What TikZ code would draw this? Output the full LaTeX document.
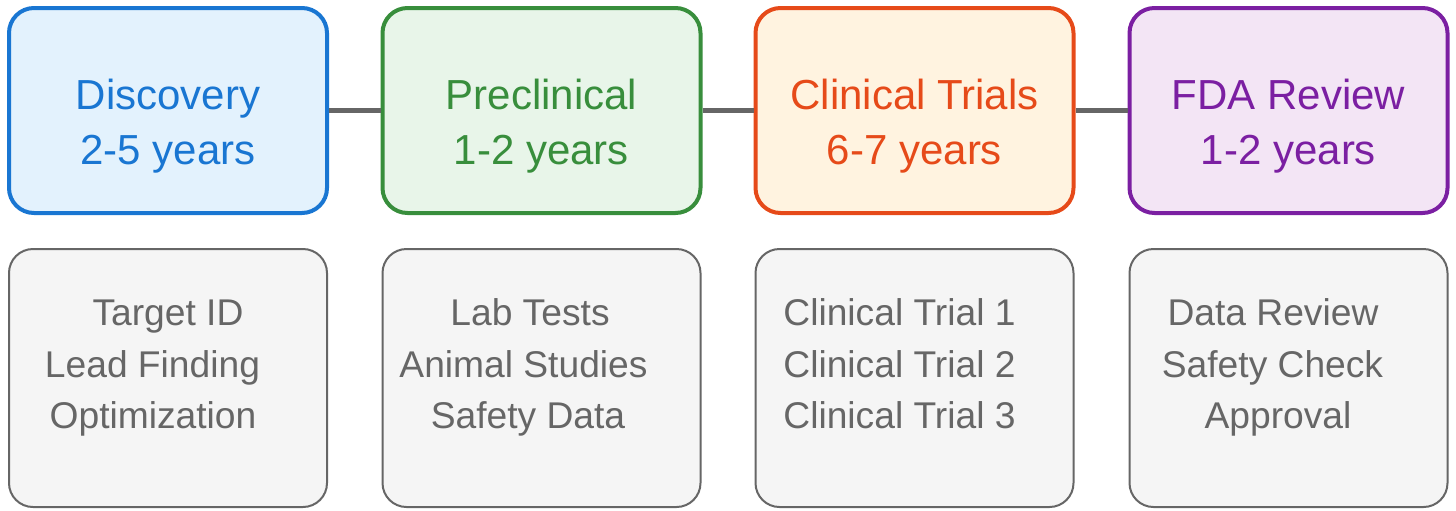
\documentclass[tikz,border=0pt]{standalone}
\usepackage{fontspec}
\setmainfont{Liberation Sans}
\definecolor{cblue}{HTML}{1976D2}\definecolor{fblue}{HTML}{E3F2FD}
\definecolor{cgreen}{HTML}{388E3C}\definecolor{fgreen}{HTML}{E8F5E9}
\definecolor{corange}{HTML}{E64A19}\definecolor{forange}{HTML}{FFF3E0}
\definecolor{cpurple}{HTML}{7B1FA2}\definecolor{fpurple}{HTML}{F3E5F5}
\definecolor{cgray}{HTML}{666666}\definecolor{fgray}{HTML}{F5F5F5}
\tikzset{
  phase/.style={draw=#1, line width=2pt, rounded corners=12.5pt, minimum width=159pt, minimum height=102.5pt, inner sep=0pt},
  detail/.style={draw=cgray, fill=fgray, line width=1pt, rounded corners=12pt, minimum width=159pt, minimum height=129pt, inner sep=0pt},
  ptext/.style={anchor=base, inner sep=0pt, font=\fontsize{21pt}{25pt}\selectfont, text=#1},
  dtext/.style={anchor=base, inner sep=0pt, font=\fontsize{18.6pt}{22pt}\selectfont, text=cgray},
  link/.style={draw=cgray, line width=2.5pt}
}
\begin{document}
\begin{tikzpicture}[x=0.5pt,y=-0.5pt]
\useasboundingbox (0,0) rectangle (1456,510);
% top phase boxes
\node[phase=cblue, fill=fblue] (p1) at (168,110.5) {};
\node[phase=cgreen, fill=fgreen] (p2) at (541.5,110.5) {};
\node[phase=corange, fill=forange] (p3) at (914.5,110.5) {};
\node[phase=cpurple, fill=fpurple] (p4) at (1288.5,110.5) {};
\draw[link] (p1.east) -- (p2.west);
\draw[link] (p2.east) -- (p3.west);
\draw[link] (p3.east) -- (p4.west);
\node[ptext=cblue] (p1a) at (168,109) {Discovery};
\node[ptext=cblue] (p1b) at (168,164) {2-5 years};
\node[ptext=cgreen] (p2a) at (541.5,109) {Preclinical};
\node[ptext=cgreen] (p2b) at (541.5,164) {1-2 years};
\node[ptext=corange] (p3a) at (914.5,109) {Clinical Trials};
\node[ptext=corange] (p3b) at (914.5,164) {6-7 years};
\node[ptext=cpurple] (p4a) at (1288.5,109) {FDA Review};
\node[ptext=cpurple] (p4b) at (1288.5,164) {1-2 years};
% detail boxes
\node[detail] (d1) at (168,378) {};
\node[detail] (d2) at (541.5,378) {};
\node[detail] (d3) at (914.5,378) {};
\node[detail] (d4) at (1288.5,378) {};
\node[dtext] (d1a) at (168,325) {Target ID};
\node[dtext] (d1b) at (152.5,377) {Lead Finding};
\node[dtext] (d1c) at (153,428) {Optimization};
\node[dtext] (d2a) at (530,325) {Lab Tests};
\node[dtext] (d2b) at (523.5,377) {Animal Studies};
\node[dtext] (d2c) at (528,428) {Safety Data};
\node[dtext, anchor=base west] (d3a) at (783,325) {Clinical Trial 1};
\node[dtext, anchor=base west] (d3b) at (783,377) {Clinical Trial 2};
\node[dtext, anchor=base west] (d3c) at (783,428) {Clinical Trial 3};
\node[dtext] (d4a) at (1273,325) {Data Review};
\node[dtext] (d4b) at (1272.5,377) {Safety Check};
\node[dtext] (d4c) at (1278,428) {Approval};
\end{tikzpicture}
\end{document}
